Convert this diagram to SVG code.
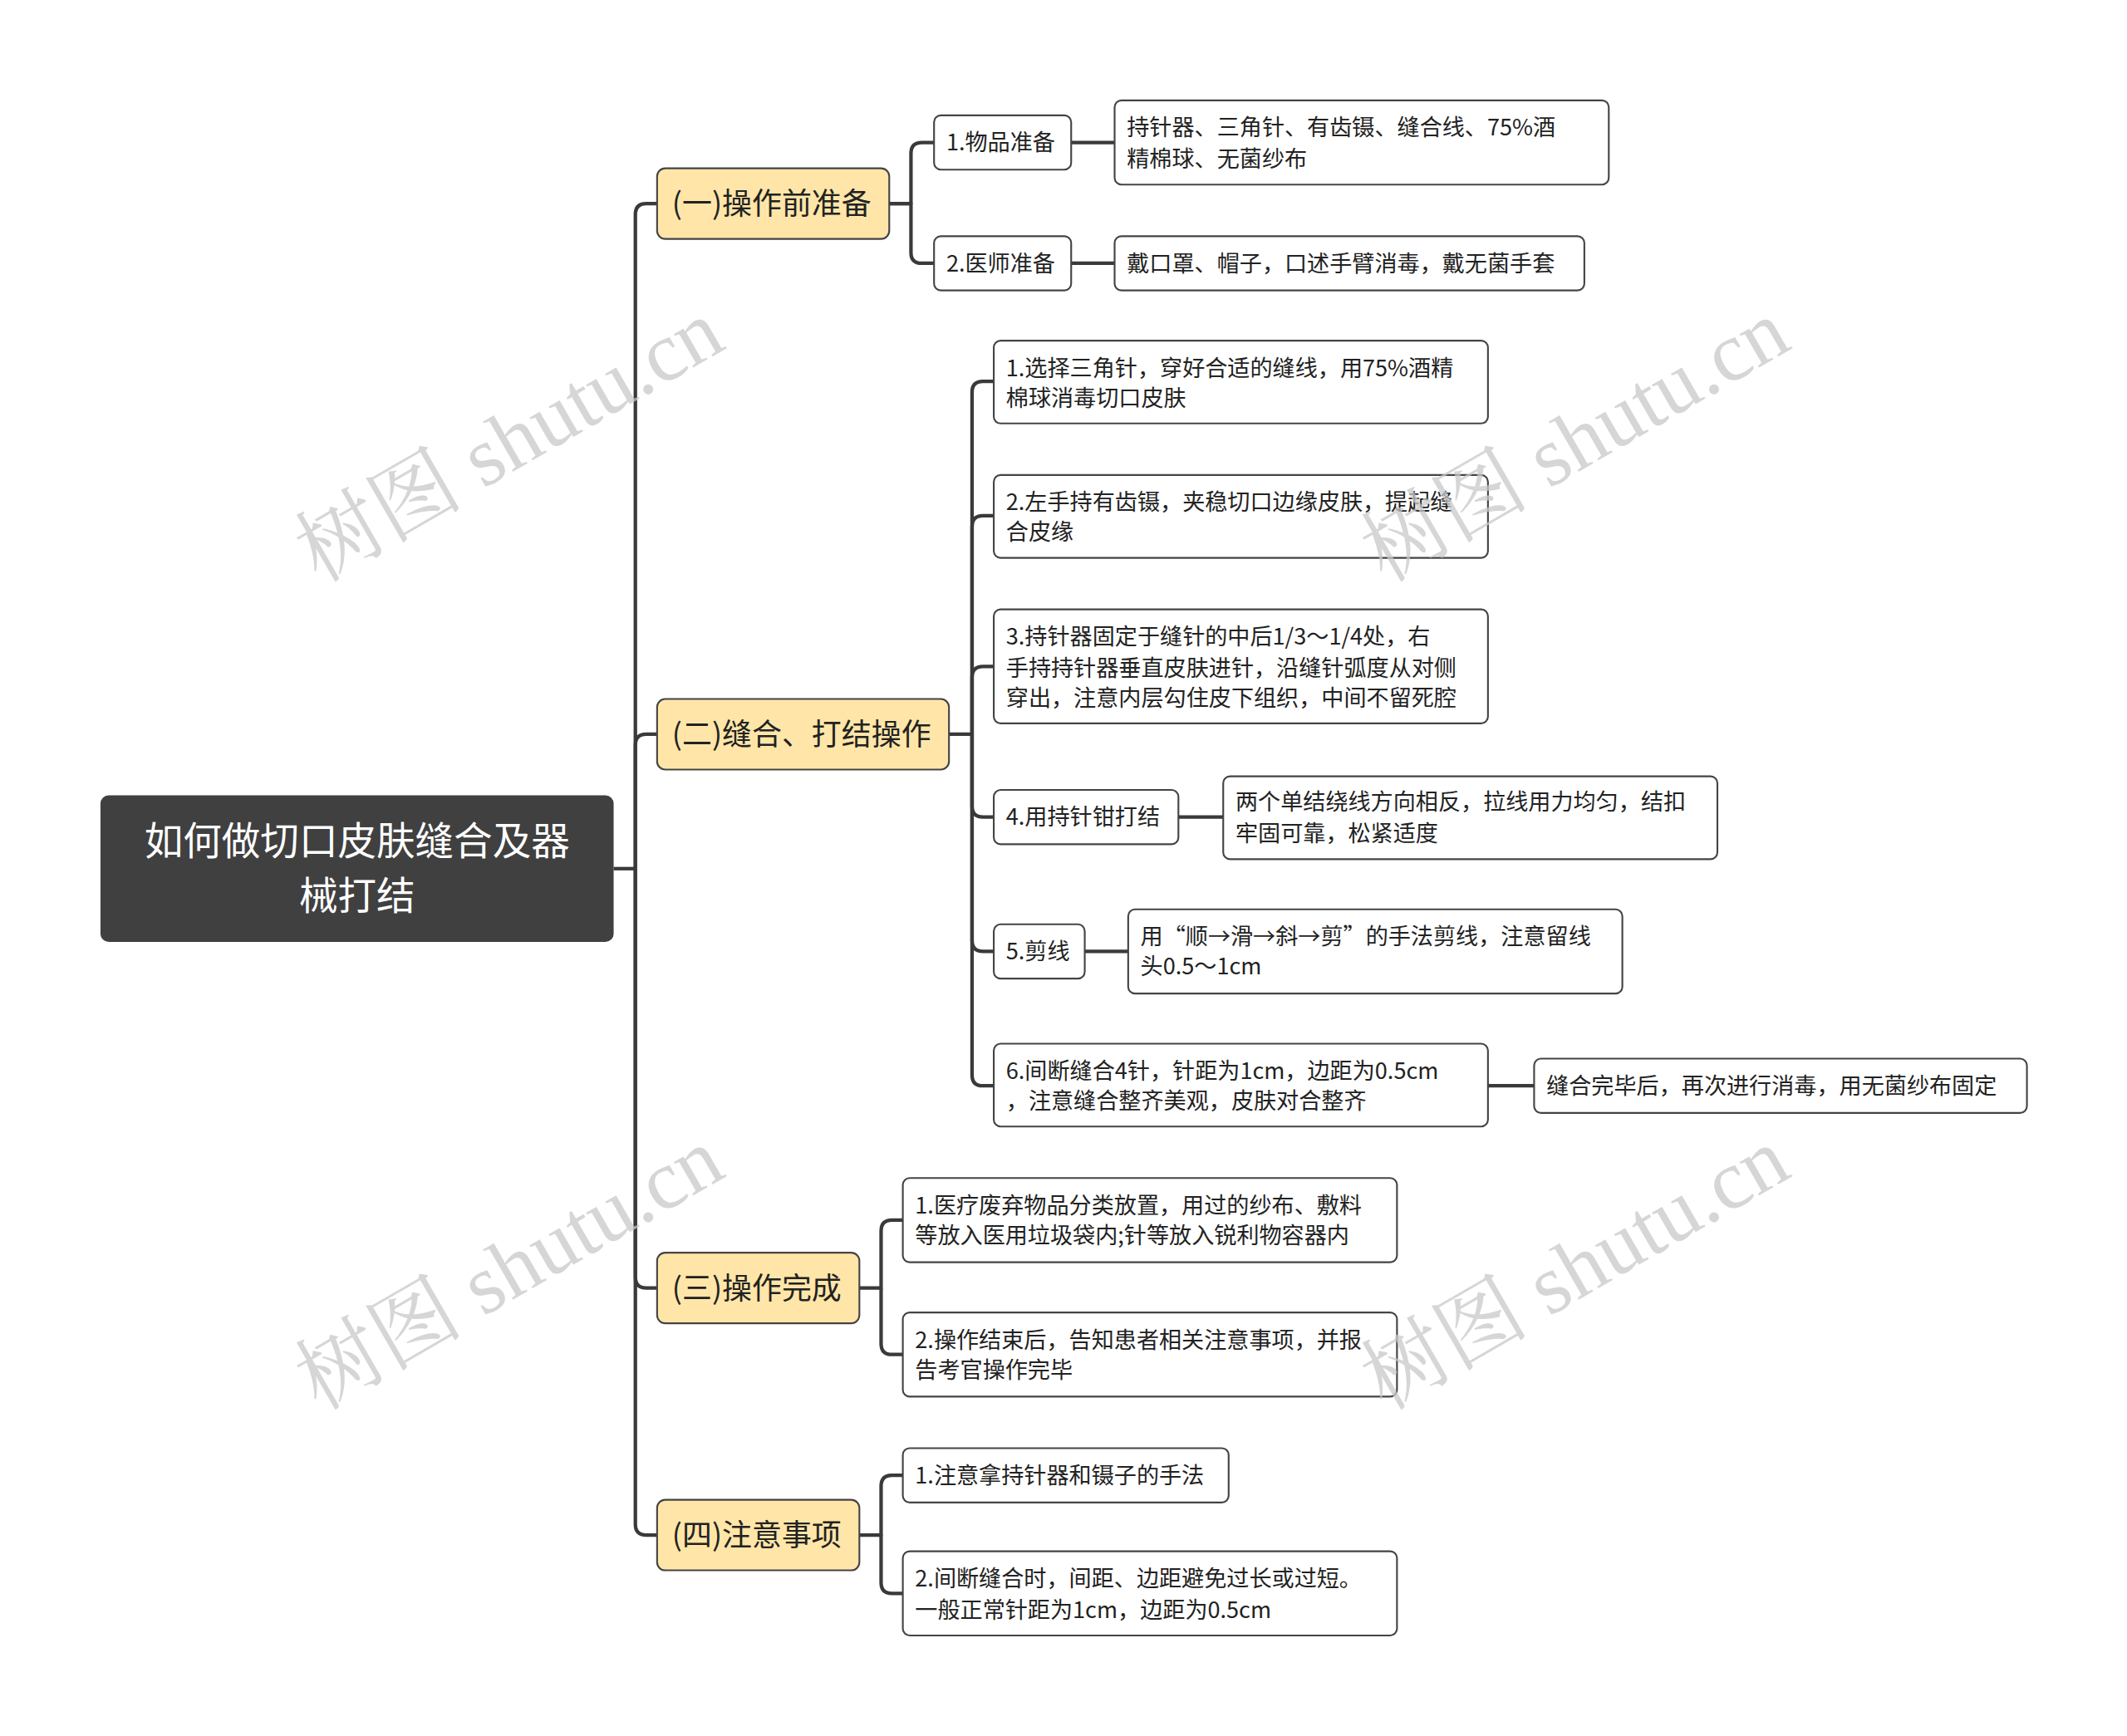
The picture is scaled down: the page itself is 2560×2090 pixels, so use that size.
<svg xmlns="http://www.w3.org/2000/svg" width="2560" height="2090" viewBox="0 0 2560 2090">
<style>
text{font-family:"Noto Sans CJK SC","Noto Sans",sans-serif;fill:#222}
.c{fill:none;stroke:#3a3a3a;stroke-width:2.6;stroke-linejoin:round}
.l1 rect{fill:#FFE6A8;stroke:#444;stroke-width:1.3}
.l1 text{font-size:22px}
.n rect{fill:#fff;stroke:#444;stroke-width:1.3}
.n text{font-size:16.6px}
.wm{font-family:"Liberation Serif","Noto Serif CJK SC","Noto Sans CJK SC",serif;font-size:62px;fill:#c8c8c8;fill-opacity:0.75}
</style>
<rect width="2560" height="2090" fill="#fff"/>
<g transform="scale(1.634)">
<g id="connectors">
<path class="c" d="M452,640 H468"/>
<path class="c" d="M468,640 V158 Q468,150 476,150 H484"/>
<path class="c" d="M468,640 V549 Q468,541 476,541 H484"/>
<path class="c" d="M468,640 V941 Q468,949 476,949 H484"/>
<path class="c" d="M468,640 V1123 Q468,1131 476,1131 H484"/>
<path class="c" d="M655,150 H671 V113 Q671,105 679,105 H688"/>
<path class="c" d="M655,150 H671 V186 Q671,194 679,194 H688"/>
<path class="c" d="M789,105 H821"/>
<path class="c" d="M789,194 H821"/>
<path class="c" d="M699,541 H716 V289 Q716,281 724,281 H732"/>
<path class="c" d="M716,541 V388 Q716,380 724,380 H732"/>
<path class="c" d="M716,541 V499 Q716,491 724,491 H732"/>
<path class="c" d="M716,541 V594 Q716,602 724,602 H732"/>
<path class="c" d="M716,541 V693 Q716,701 724,701 H732"/>
<path class="c" d="M716,541 V792 Q716,800 724,800 H732"/>
<path class="c" d="M868,602 H901"/>
<path class="c" d="M799,701 H831"/>
<path class="c" d="M1096,800 H1130"/>
<path class="c" d="M633,949 H649 V907 Q649,899 657,899 H665"/>
<path class="c" d="M649,949 V990 Q649,998 657,998 H665"/>
<path class="c" d="M633,1131 H649 V1095 Q649,1087 657,1087 H665"/>
<path class="c" d="M649,1131 V1166 Q649,1174 657,1174 H665"/>
</g>
<g id="root"><rect x="74" y="586" width="378" height="108" rx="6" fill="#404040"/>
<text x="263" y="630" font-size="28.5" text-anchor="middle" style="fill:#fff">如何做切口皮肤缝合及器</text>
<text x="263" y="670" font-size="28.5" text-anchor="middle" style="fill:#fff">械打结</text></g>
<g id="a" class="l1"><rect x="484" y="124" width="171" height="52" rx="6"/><text x="495" y="158">(一)操作前准备</text></g>
<g id="b" class="l1"><rect x="484" y="515" width="215" height="52" rx="6"/><text x="495" y="549">(二)缝合、打结操作</text></g>
<g id="c" class="l1"><rect x="484" y="923" width="149" height="52" rx="6"/><text x="495" y="957">(三)操作完成</text></g>
<g id="d" class="l1"><rect x="484" y="1105" width="149" height="52" rx="6"/><text x="495" y="1139">(四)注意事项</text></g>
<g id="a1" class="n"><rect x="688" y="85" width="101" height="40" rx="5"/><text x="697" y="111">1.物品准备</text></g>
<g id="a2" class="n"><rect x="688" y="174" width="101" height="40" rx="5"/><text x="697" y="200">2.医师准备</text></g>
<g id="a1l" class="n"><rect x="821" y="74" width="364" height="62" rx="5"/><text x="830" y="100">持针器、三角针、有齿镊、缝合线、75%酒</text><text x="830" y="123">精棉球、无菌纱布</text></g>
<g id="a2l" class="n"><rect x="821" y="174" width="346" height="40" rx="5"/><text x="830" y="200">戴口罩、帽子，口述手臂消毒，戴无菌手套</text></g>
<g id="b1" class="n"><rect x="732" y="251" width="364" height="61" rx="5"/><text x="741" y="277">1.选择三角针，穿好合适的缝线，用75%酒精</text><text x="741" y="299">棉球消毒切口皮肤</text></g>
<g id="b2" class="n"><rect x="732" y="350" width="364" height="61" rx="5"/><text x="741" y="376">2.左手持有齿镊，夹稳切口边缘皮肤，提起缝</text><text x="741" y="398">合皮缘</text></g>
<g id="b3" class="n"><rect x="732" y="449" width="364" height="84" rx="5"/><text x="741" y="475">3.持针器固定于缝针的中后1/3～1/4处，右</text><text x="741" y="498">手持持针器垂直皮肤进针，沿缝针弧度从对侧</text><text x="741" y="520">穿出，注意内层勾住皮下组织，中间不留死腔</text></g>
<g id="b4" class="n"><rect x="732" y="582" width="136" height="40" rx="5"/><text x="741" y="608">4.用持针钳打结</text></g>
<g id="b4l" class="n"><rect x="901" y="572" width="364" height="61" rx="5"/><text x="910" y="597">两个单结绕线方向相反，拉线用力均匀，结扣</text><text x="910" y="620">牢固可靠，松紧适度</text></g>
<g id="b5" class="n"><rect x="732" y="681" width="67" height="40" rx="5"/><text x="741" y="707">5.剪线</text></g>
<g id="b5l" class="n"><rect x="831" y="670" width="364" height="62" rx="5"/><text x="840" y="696">用“顺→滑→斜→剪”的手法剪线，注意留线</text><text x="840" y="718">头0.5～1cm</text></g>
<g id="b6" class="n"><rect x="732" y="769" width="364" height="61" rx="5"/><text x="741" y="795">6.间断缝合4针，针距为1cm，边距为0.5cm</text><text x="741" y="817">，注意缝合整齐美观，皮肤对合整齐</text></g>
<g id="b6l" class="n"><rect x="1130" y="780" width="363" height="40" rx="5"/><text x="1139" y="806">缝合完毕后，再次进行消毒，用无菌纱布固定</text></g>
<g id="c1" class="n"><rect x="665" y="868" width="364" height="62" rx="5"/><text x="674" y="894">1.医疗废弃物品分类放置，用过的纱布、敷料</text><text x="674" y="916">等放入医用垃圾袋内;针等放入锐利物容器内</text></g>
<g id="c2" class="n"><rect x="665" y="967" width="364" height="62" rx="5"/><text x="674" y="993">2.操作结束后，告知患者相关注意事项，并报</text><text x="674" y="1015">告考官操作完毕</text></g>
<g id="d1" class="n"><rect x="665" y="1067" width="240" height="40" rx="5"/><text x="674" y="1093">1.注意拿持针器和镊子的手法</text></g>
<g id="d2" class="n"><rect x="665" y="1143" width="364" height="62" rx="5"/><text x="674" y="1169">2.间断缝合时，间距、边距避免过长或过短。</text><text x="674" y="1192">一般正常针距为1cm，边距为0.5cm</text></g>
<g id="watermarks">
<text class="wm" transform="translate(235,430) rotate(-30)">树图 shutu.cn</text>
<text class="wm" transform="translate(1020,430) rotate(-30)">树图 shutu.cn</text>
<text class="wm" transform="translate(235,1040) rotate(-30)">树图 shutu.cn</text>
<text class="wm" transform="translate(1020,1040) rotate(-30)">树图 shutu.cn</text>
</g>
</g>
</svg>
